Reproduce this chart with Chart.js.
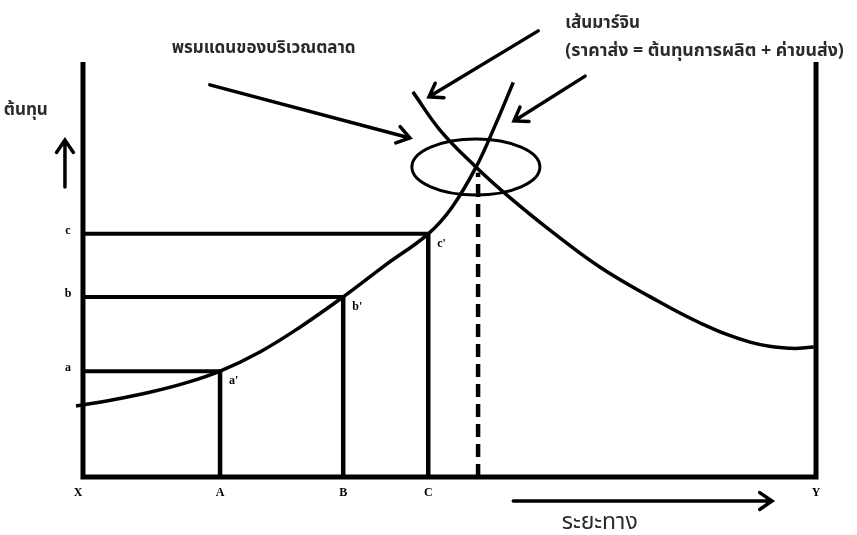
<!DOCTYPE html>
<html>
<head>
<meta charset="utf-8">
<script src="https://cdn.jsdelivr.net/npm/chart.js@4.4.0/dist/chart.umd.min.js"></script>
<style>
    html, body { margin: 0; padding: 0; background: #ffffff; }
    canvas { display: block; }
</style>
</head>
<body>
<canvas id="grafico" width="857" height="535"></canvas>
<script>
// ระยะทาง: X = 0 ... Y = 100
const puntos = ["X", "A", "B", "C", "Y"];
const distancias = [0, 18.7, 35.5, 47.1, 100];

// ต้นทุน ที่จุด A, B, C
const niveles = ["a", "b", "c"];
const costos = [25.5, 43.4, 58.6];
const puntosCurva = ["a'", "b'", "c'"];

// เส้นต้นทุน (ขาขึ้น) จากตลาด X
const subidaX = [-0.95, 4.1, 9.1, 13.9, 18.7, 24.2, 29.6, 35.5, 41.2, 47.1, 50.3, 53.6, 56.2, 58.7];
const subidaY = [17.1, 18.6, 20.4, 22.6, 25.5, 30.2, 36.1, 43.4, 51.0, 58.6, 64.9, 74.6, 84.6, 95.1];

// เส้นต้นทุน (ขาลง) จากตลาด Y
const bajadaX = [45.0, 48.7, 53.6, 57.8, 63.7, 70.5, 77.4, 84.2, 91.0, 96.5, 99.7];
const bajadaY = [92.8, 83.6, 74.7, 68.0, 59.5, 50.6, 43.4, 37.1, 32.5, 31.0, 31.3];

// เส้นมาร์จิน (จุดตัด)
const margenX = 53.9;
const margenY = 73.3;
const alturaEje = 100;

const fuenteThai = '"Noto Sans Thai", "Tahoma", "Loma", "Garuda", "Noto Sans", sans-serif';
const fuenteLetra = 'bold 12px "Liberation Serif", "Times New Roman", serif';

function linea(puntosLinea, ancho, extra) {
    return Object.assign({
        data: puntosLinea,
        showLine: true,
        borderColor: "#000000",
        borderWidth: ancho,
        pointRadius: 0,
        fill: false
    }, extra || {});
}

const datasets = [];

// ejes
datasets.push(linea([
    { x: 0, y: alturaEje },
    { x: 0, y: 0 },
    { x: 100, y: 0 },
    { x: 100, y: alturaEje }
], 5, { borderJoinStyle: "miter", borderCapStyle: "butt" }));

// lineas de a, b, c
costos.forEach((costo, i) => {
    const d = distancias[i + 1];
    datasets.push(linea([{ x: 0, y: costo }, { x: d, y: costo }], 4));
    datasets.push(linea([{ x: d, y: 0 }, { x: d, y: costo }], 4.5));
});

// linea punteada
datasets.push(linea([{ x: margenX, y: 0 }, { x: margenX, y: margenY }], 4.5, { borderDash: [13, 7] }));

// curvas
datasets.push(linea(subidaX.map((x, i) => ({ x: x, y: subidaY[i] })), 3.5, { tension: 0.4 }));
datasets.push(linea(bajadaX.map((x, i) => ({ x: x, y: bajadaY[i] })), 3.5, { tension: 0.4 }));

// flechas y textos (en unidades de los ejes)
const flechas = [
    [62.1, 107.5, 47.2, 91.6],
    [68.5, 96.6, 58.8, 85.8],
    [17.3, 94.5, 44.6, 81.7],
    [-2.46, 69.9, -2.46, 81.2],
    [58.7, -5.8, 94.0, -5.8]
];

const textos = [
    { t: "เส้นมาร์จิน", x: 65.8, y: 109.0, size: 17, peso: "bold " },
    { t: "(ราคาส่ง = ต้นทุนการผลิต + ค่าขนส่ง)", x: 65.8, y: 102.2, size: 17.8, peso: "bold " },
    { t: "พรมแดนของบริเวณตลาด", x: 12.1, y: 103.0, size: 17, peso: "bold " },
    { t: "ต้นทุน", x: -10.8, y: 88.0, size: 17, peso: "bold " },
    { t: "ระยะทาง", x: 65.3, y: -11.5, size: 23, peso: "" }
];

const decoraciones = {
    id: "decoraciones",
    afterDatasetsDraw(chart) {
        const ctx = chart.ctx;
        const sx = chart.scales.x;
        const sy = chart.scales.y;
        const px = v => sx.getPixelForValue(v);
        const py = v => sy.getPixelForValue(v);

        ctx.save();
        ctx.strokeStyle = "#000000";
        ctx.fillStyle = "#000000";

        // ovalo
        ctx.lineWidth = 3;
        ctx.beginPath();
        ctx.ellipse(px(53.6), py(74.7), px(53.6 + 8.73) - px(53.6), py(74.7) - py(74.7 + 6.75), 0, 0, Math.PI * 2);
        ctx.stroke();

        // flechas
        ctx.lineWidth = 3.5;
        ctx.lineCap = "round";
        flechas.forEach(f => {
            const x1 = px(f[0]), y1 = py(f[1]), x2 = px(f[2]), y2 = py(f[3]);
            const ang = Math.atan2(y2 - y1, x2 - x1);
            ctx.beginPath();
            ctx.moveTo(x1, y1);
            ctx.lineTo(x2, y2);
            ctx.moveTo(x2 - 15 * Math.cos(ang - 0.6), y2 - 15 * Math.sin(ang - 0.6));
            ctx.lineTo(x2, y2);
            ctx.lineTo(x2 - 15 * Math.cos(ang + 0.6), y2 - 15 * Math.sin(ang + 0.6));
            ctx.stroke();
        });

        // letras del eje
        ctx.font = fuenteLetra;
        ctx.textAlign = "center";
        ctx.textBaseline = "middle";
        puntos.forEach((p, i) => {
            ctx.fillText(p, px(distancias[i]) - (i === 0 ? 5 : 0), py(0) + 16);
        });
        niveles.forEach((n, i) => {
            ctx.fillText(n, px(0) - 15, py(costos[i]) - 3);
        });
        ctx.textAlign = "left";
        puntosCurva.forEach((n, i) => {
            ctx.fillText(n, px(distancias[i + 1]) + 9, py(costos[i]) + 10);
        });

        // textos thai
        ctx.fillStyle = "#2a2a2a";
        textos.forEach(t => {
            ctx.font = t.peso + t.size + "px " + fuenteThai;
            ctx.fillText(t.t, px(t.x), py(t.y));
        });
        ctx.restore();
    }
};

new Chart(document.getElementById("grafico"), {
    type: "scatter",
    data: { datasets: datasets },
    options: {
        responsive: false,
        animation: false,
        layout: { padding: 0 },
        plugins: {
            legend: { display: false },
            tooltip: { enabled: false }
        },
        scales: {
            x: { type: "linear", min: -11.32, max: 105.59, display: false },
            y: { type: "linear", min: -13.98, max: 114.94, display: false }
        }
    },
    plugins: [decoraciones]
});
</script>
</body>
</html>
